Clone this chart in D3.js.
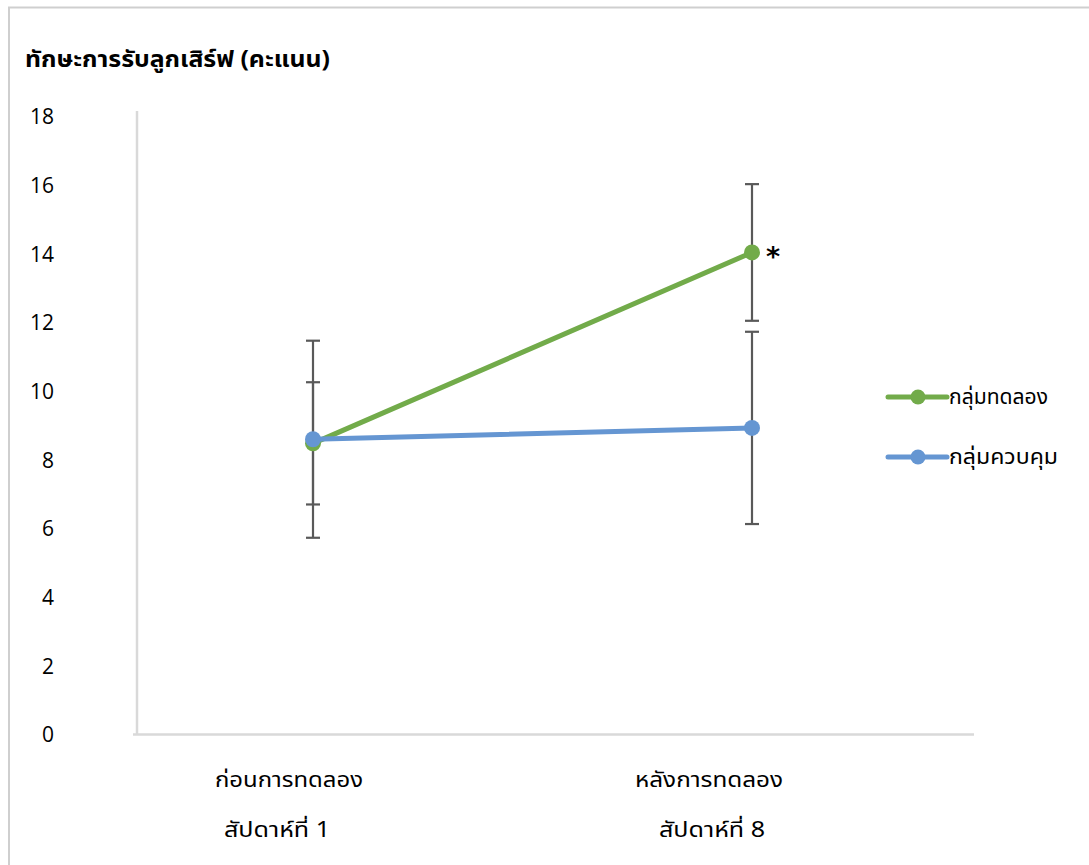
<!DOCTYPE html>
<html>
<head>
<meta charset="utf-8">
<script src="https://cdn.jsdelivr.net/npm/d3@7"></script>
<style>
  html, body { margin: 0; padding: 0; background: #fff; }
  svg text { font-family: "Noto Sans Thai", "Noto Sans", "DejaVu Sans", sans-serif; fill: #000; }
</style>
</head>
<body>
<svg id="chart" width="1089" height="865"></svg>
<script>
// Serve-reception skill scores, mean ± SD, before and after the 8-week program
const categories = ["pre", "post"];
const categoryLine1 = ["ก่อนการทดลอง", "หลังการทดลอง"];
const categoryLine2 = ["สัปดาห์ที่ 1", "สัปดาห์ที่ 8"];
const seriesNames = ["กลุ่มทดลอง", "กลุ่มควบคุม"];
const experimentalMean = [8.48, 14.04];
const experimentalSD = [1.78, 1.99];
const controlMean = [8.60, 8.93];
const controlSD = [2.87, 2.80];
const yTicks = [0, 2, 4, 6, 8, 10, 12, 14, 16, 18];
const significant = [false, true];
const seriesColors = ["#72ab4a", "#6596d2"];

const series = [
  { name: seriesNames[0], mean: experimentalMean, sd: experimentalSD, color: seriesColors[0], sig: significant },
  { name: seriesNames[1], mean: controlMean, sd: controlSD, color: seriesColors[1], sig: [false, false] }
];

const svg = d3.select("#chart");

// outer frame (runs off the right and bottom edges)
svg.append("rect")
  .attr("x", 9).attr("y", 7.5).attr("width", 1100).attr("height", 900)
  .attr("fill", "#fff").attr("stroke", "#cfcfcf").attr("stroke-width", 2);

const x = d3.scalePoint().domain(categories).range([313, 752]);
const xLabel1 = d3.scalePoint().domain(categories).range([289, 709]);
const xLabel2 = d3.scalePoint().domain(categories).range([277, 712]);
const y = d3.scaleLinear().domain([0, 18]).range([734.5, 116.5]);

// title
svg.append("text")
  .attr("x", 25).attr("y", 67)
  .attr("font-size", 23).attr("font-weight", "bold")
  .attr("textLength", 305).attr("lengthAdjust", "spacingAndGlyphs")
  .text("ทักษะการรับลูกเสิร์ฟ (คะแนน)");

// y axis: labels only, plus a light axis line
const yAxis = d3.axisLeft(y).tickValues(yTicks).tickSize(0).tickPadding(0);
const gy = svg.append("g").attr("transform", "translate(54,0)").call(yAxis);
gy.select(".domain").remove();
gy.selectAll("text").attr("font-size", 21).attr("dy", "0.35em")
  .style("font-family", "\"Open Sans\", \"Noto Sans\", sans-serif");

svg.append("line")
  .attr("x1", 137).attr("x2", 137).attr("y1", 111).attr("y2", y(0))
  .attr("stroke", "#d9d9d9").attr("stroke-width", 2.5);
svg.append("line")
  .attr("x1", 133).attr("x2", 974).attr("y1", y(0)).attr("y2", y(0))
  .attr("stroke", "#d9d9d9").attr("stroke-width", 2.5);

// category labels
const xl = svg.append("g");
categories.forEach((c, i) => {
  xl.append("text").attr("x", xLabel1(c)).attr("y", 787)
    .attr("text-anchor", "middle").attr("font-size", 21)
    .attr("textLength", 148).attr("lengthAdjust", "spacingAndGlyphs")
    .text(categoryLine1[i]);
  xl.append("text").attr("x", xLabel2(c)).attr("y", 837)
    .attr("text-anchor", "middle").attr("font-size", 21)
    .attr("textLength", 106).attr("lengthAdjust", "spacingAndGlyphs")
    .text(categoryLine2[i]);
});

// error bars
const capHalf = 7;
series.forEach(s => {
  const g = svg.append("g");
  categories.forEach((c, i) => {
    const hi = y(s.mean[i] + s.sd[i]);
    const lo = y(s.mean[i] - s.sd[i]);
    const cx = x(c);
    g.append("line").attr("x1", cx).attr("x2", cx).attr("y1", hi).attr("y2", lo)
      .attr("stroke", "#595959").attr("stroke-width", 2.2);
    [hi, lo].forEach(v => g.append("line")
      .attr("x1", cx - capHalf).attr("x2", cx + capHalf).attr("y1", v).attr("y2", v)
      .attr("stroke", "#595959").attr("stroke-width", 2.2));
  });
});

// lines and markers
const line = d3.line().x((d, i) => x(categories[i])).y(d => y(d));
series.forEach(s => {
  svg.append("path").datum(s.mean).attr("d", line)
    .attr("fill", "none").attr("stroke", s.color).attr("stroke-width", 5)
    .attr("stroke-linecap", "round");
  svg.selectAll(null).data(s.mean).enter().append("circle")
    .attr("cx", (d, i) => x(categories[i])).attr("cy", d => y(d))
    .attr("r", 8).attr("fill", s.color);
  s.sig.forEach((flag, i) => {
    if (!flag) return;
    svg.append("text")
      .attr("x", x(categories[i]) + 14).attr("y", y(s.mean[i]) + 14)
      .attr("font-size", 27).attr("font-weight", "bold")
      .style("font-family", "\"DejaVu Sans\", sans-serif")
      .text("*");
  });
});

// legend
const legend = svg.append("g");
series.forEach((s, i) => {
  const ly = 397 + i * 60;
  legend.append("line").attr("x1", 888).attr("x2", 947).attr("y1", ly).attr("y2", ly)
    .attr("stroke", s.color).attr("stroke-width", 5).attr("stroke-linecap", "round");
  legend.append("circle").attr("cx", 918).attr("cy", ly).attr("r", 7.5).attr("fill", s.color);
  legend.append("text").attr("x", 949).attr("y", ly + 7)
    .attr("font-size", 21)
    .attr("textLength", i === 0 ? 99 : 109).attr("lengthAdjust", "spacingAndGlyphs")
    .text(s.name);
});
</script>
</body>
</html>
